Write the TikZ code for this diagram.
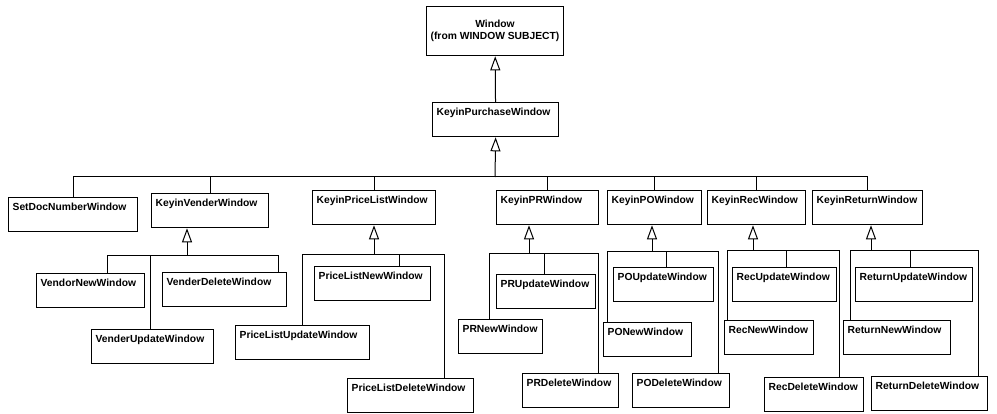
\documentclass[tikz,border=0pt]{standalone}
\usepackage{fontspec}
\setmainfont{Liberation Sans}
\usetikzlibrary{arrows.meta}

\begin{document}
\begin{tikzpicture}[x=1pt, y=-1pt,
    font=\bfseries\fontsize{10.3}{12}\selectfont,
    classbox/.style={draw, line width=1.3pt, anchor=north west, inner xsep=4pt, inner ysep=0pt,
        align=left, text width=#1, text height=13pt, text depth=21pt},
    bus/.style={line width=1pt},
    inherit/.style={line width=1pt, -{Triangle[open, width=10pt, length=14pt]}}]

    % Fix the page to the reference size
    \useasboundingbox (0,0) rectangle (997,414);

    % Root classes
    \node[draw, line width=1.3pt, align=center, minimum width=137pt, minimum height=49pt, anchor=north] (Window) at (495,6) {Window\\(from WINDOW SUBJECT)};
    \node[classbox=118pt] (KeyinPurchase) at (432,102) {KeyinPurchaseWindow};
    \draw[inherit] (KeyinPurchase) -- (Window);

    % Second level
    \node[classbox=121pt] (SetDocNumber) at (8,197) {SetDocNumberWindow};
    \node[classbox=109pt] (KeyinVender) at (151,193) {KeyinVenderWindow};
    \node[classbox=115pt] (KeyinPriceList) at (312,190) {KeyinPriceListWindow};
    \node[classbox=94pt] (KeyinPR) at (496,190) {KeyinPRWindow};
    \node[classbox=86pt] (KeyinPO) at (607,190) {KeyinPOWindow};
    \node[classbox=90pt] (KeyinRec) at (707,190) {KeyinRecWindow};
    \node[classbox=102pt] (KeyinReturn) at (812,190) {KeyinReturnWindow};

    % Main bus
    \coordinate (mainBus) at (495,177);
    \draw[inherit] (mainBus) -- (KeyinPurchase.south);
    \foreach \n in {SetDocNumber,KeyinVender,KeyinPriceList,KeyinPR,KeyinPO,KeyinRec,KeyinReturn}
        \draw[bus] (\n.north) |- (mainBus);

    % Vender windows
    \node[classbox=100pt] (VendorNew) at (36,273) {VendorNewWindow};
    \node[classbox=116pt] (VenderDelete) at (162,272) {VenderDeleteWindow};
    \node[classbox=114pt] (VenderUpdate) at (91,329) {VenderUpdateWindow};
    \coordinate (venderBus) at (187,256);
    \draw[inherit] (venderBus) -- (venderBus |- KeyinVender.south);
    \foreach \n/\dx in {VendorNew/71,VenderUpdate/59,VenderDelete/116}
        \draw[bus] (venderBus) -| ([xshift=\dx pt]\n.north west);

    % Price list windows
    \node[classbox=108pt] (PriceListNew) at (314,266) {PriceListNewWindow};
    \node[classbox=126pt] (PriceListUpdate) at (235,325) {PriceListUpdateWindow};
    \node[classbox=118pt] (PriceListDelete) at (347,378) {PriceListDeleteWindow};
    \coordinate (priceBus) at (374,255);
    \draw[inherit] (priceBus) -- (priceBus |- KeyinPriceList.south);
    \foreach \n/\dx in {PriceListUpdate/67,PriceListNew/85,PriceListDelete/97}
        \draw[bus] (priceBus) -| ([xshift=\dx pt]\n.north west);

    % PR windows
    \node[classbox=91pt] (PRUpdate) at (496,274) {PRUpdateWindow};
    \node[classbox=76pt] (PRNew) at (458,319) {PRNewWindow};
    \node[classbox=88pt] (PRDelete) at (522,373) {PRDeleteWindow};
    \coordinate (prBus) at (529,254);
    \draw[inherit] (prBus) -- (prBus |- KeyinPR.south);
    \foreach \n/\dx in {PRNew/31,PRUpdate/48,PRDelete/76}
        \draw[bus] (prBus) -| ([xshift=\dx pt]\n.north west);

    % PO windows
    \node[classbox=92pt] (POUpdate) at (613,267) {POUpdateWindow};
    \node[classbox=80pt] (PONew) at (603,322) {PONewWindow};
    \node[classbox=89pt] (PODelete) at (632,373) {PODeleteWindow};
    \coordinate (poBus) at (652,252);
    \draw[inherit] (poBus) -- (poBus |- KeyinPO.south);
    \foreach \n/\dx in {PONew/4,POUpdate/53,PODelete/86}
        \draw[bus] (poBus) -| ([xshift=\dx pt]\n.north west);

    % Rec windows
    \node[classbox=96pt] (RecUpdate) at (732,267) {RecUpdateWindow};
    \node[classbox=81pt] (RecNew) at (724,320) {RecNewWindow};
    \node[classbox=91pt] (RecDelete) at (764,377) {RecDeleteWindow};
    \coordinate (recBus) at (753,251);
    \draw[inherit] (recBus) -- (recBus |- KeyinRec.south);
    \foreach \n/\dx in {RecNew/3,RecUpdate/54,RecDelete/75}
        \draw[bus] (recBus) -| ([xshift=\dx pt]\n.north west);

    % Return windows
    \node[classbox=109pt] (ReturnUpdate) at (855,267) {ReturnUpdateWindow};
    \node[classbox=99pt] (ReturnNew) at (843,320) {ReturnNewWindow};
    \node[classbox=108pt] (ReturnDelete) at (871,376) {ReturnDeleteWindow};
    \coordinate (returnBus) at (871,251);
    \draw[inherit] (returnBus) -- (returnBus |- KeyinReturn.south);
    \foreach \n/\dx in {ReturnNew/7,ReturnUpdate/55,ReturnDelete/107}
        \draw[bus] (returnBus) -| ([xshift=\dx pt]\n.north west);

\end{tikzpicture}
\end{document}
